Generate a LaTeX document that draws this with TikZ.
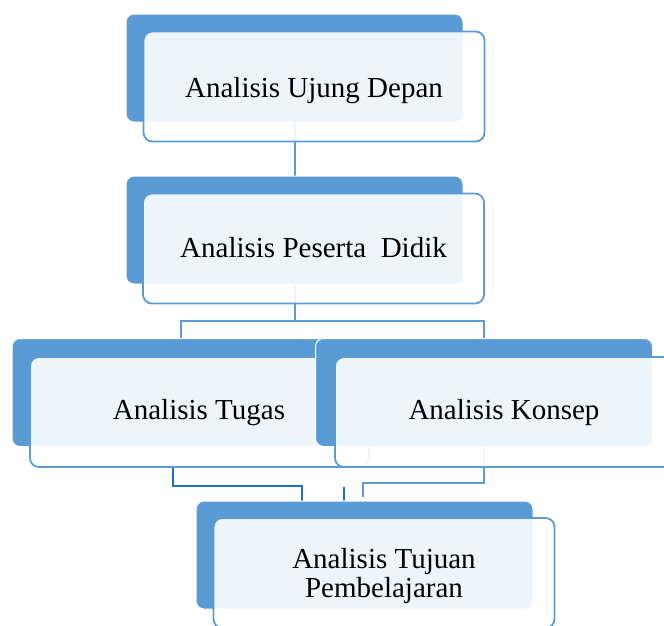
\documentclass[tikz,border=0pt]{standalone}
\usepackage{fontspec}
\setmainfont{Liberation Serif}
\pgfdeclarelayer{background}
\pgfsetlayers{background,main}
\definecolor{smblue}{RGB}{91,155,213}
\definecolor{smdark}{RGB}{30,112,190}
\begin{document}
\begin{tikzpicture}[x=1pt,y=-1pt,
  backbox/.style={draw=white, line width=1pt, fill=smblue, rounded corners=8pt,
    minimum width=337pt, minimum height=108pt, inner sep=0pt},
  frontbox/.style={draw=smblue, line width=1.8pt, fill=white, fill opacity=0.9,
    rounded corners=9pt, minimum width=341pt, minimum height=110pt, inner sep=0pt},
  lbl/.style={font=\fontsize{29}{29}\selectfont, text=black, inner sep=0pt},
  conn/.style={draw=smblue, line width=2pt},
  conndark/.style={draw=smdark, line width=2pt}]
\useasboundingbox (0,0) rectangle (664,625);
% boxes
\node[backbox] (back1) at (294.5,68) {};
\node[frontbox] (front1) at (314,86.5) {};
\node[backbox] (back2) at (294.5,230) {};
\node[frontbox] (front2) at (313.5,248.5) {};
\node[backbox] (backT) at (180.5,392.5) {};
\node[frontbox, minimum width=339pt] (frontT) at (199.5,412) {};
\node[backbox] (backK) at (484,392.5) {};
\node[frontbox] (frontK) at (505.5,412) {};
\node[backbox] (back5) at (364.5,555) {};
\node[frontbox] (front5) at (384,573) {};
% texts
\node[lbl, anchor=base] (t1) at (314,97) {Analisis Ujung Depan};
\node[lbl, anchor=base] (t2) at (313.5,257) {Analisis Peserta\ \ Didik};
\node[lbl, anchor=base] (tT) at (199,419) {Analisis Tugas};
\node[lbl, anchor=base] (tK) at (504,419) {Analisis Konsep};
\node[lbl, anchor=center, align=center] (t5) at (384,575.8) {Analisis Tujuan\\Pembelajaran};
% connectors
\coordinate (j1) at (294.5,321);
\coordinate (lt) at (173,467);
\coordinate (lk) at (302,486);
\coordinate (mt) at (344,487);
\coordinate (rk) at (484,483);
\coordinate (re) at (363,497);
\begin{pgfonlayer}{background}
\draw[conn] (back1.center) -- (back2.north);
\draw[conn] (back2.center) -- (j1);
\draw[conn] (backT.north) |- (j1) -| (backK.north);
\draw[conndark] (lt) |- (lk) -- (lk |- back5.north);
\draw[conndark] (mt) -- (mt |- back5.north);
\draw[conn] (backK.center) -- (rk) -| (re);
\end{pgfonlayer}
\end{tikzpicture}
\end{document}
